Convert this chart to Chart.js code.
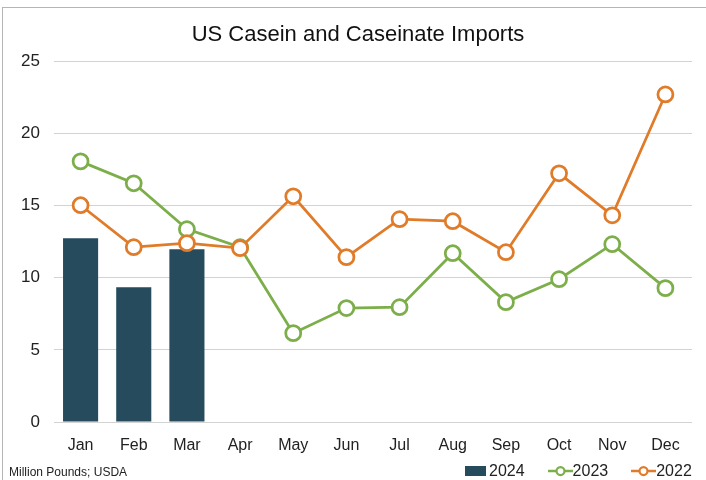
<!DOCTYPE html>
<html>
<head>
  <title>US Casein and Caseinate Imports</title>
  <script src="https://cdn.jsdelivr.net/npm/chart.js"></script>
  <style>
    body {
      margin: 0;
      background: #fff;
      font-family: 'Liberation Sans', Arial, sans-serif;
      color: #222;
    }
    .wrap {
      position: relative;
      width: 706px;
      height: 480px;
      overflow: hidden;
    }
    .frame-top {
      position: absolute;
      left: 2px; top: 7px;
      width: 704px; height: 0;
      border-top: 1px solid #b5b5b5;
    }
    .frame-left {
      position: absolute;
      left: 2px; top: 7px;
      width: 0; height: 473px;
      border-left: 1px solid #b5b5b5;
    }
    canvas { position: absolute; left: 0; top: 0; }
    .note {
      position: absolute;
      left: 9px; top: 464px;
      font-size: 12px;
      line-height: 16px;
    }
    .legend {
      position: absolute;
      top: 462px; left: 465px;
      display: flex;
      align-items: center;
      font-size: 16px;
      line-height: 18px;
    }
    .legend .item { display: flex; align-items: center; margin-right: 23px; }
    .legend .item:last-child { margin-right: 0; }
    .legend .box { width: 21px; height: 10px; margin-right: 3px; }
  </style>
</head>
<body>
  <div class="wrap">
    <canvas id="importsChart" width="706" height="480"></canvas>
    <div class="frame-top"></div>
    <div class="frame-left"></div>
    <div class="note">Million Pounds; USDA</div>
    <div class="legend" id="legend"></div>
  </div>

  <script>
    const months = ['Jan', 'Feb', 'Mar', 'Apr', 'May', 'Jun', 'Jul', 'Aug', 'Sep', 'Oct', 'Nov', 'Dec'];
    const imports2024 = [12.74, 9.35, 11.98, null, null, null, null, null, null, null, null, null];
    const imports2023 = [18.07, 16.55, 13.37, 12.12, 6.16, 7.9, 7.96, 11.7, 8.31, 9.9, 12.33, 9.28];
    const imports2022 = [15.03, 12.12, 12.4, 12.05, 15.65, 11.43, 14.06, 13.92, 11.77, 17.24, 14.33, 22.71];
    const yTicks = [0, 5, 10, 15, 20, 25];

    const navy = '#264b5c';
    const green = '#7cae4a';
    const orange = '#e07b29';
    const fontFamily = "'Liberation Sans', Arial, sans-serif";

    function lineSeries(label, values, color, order) {
      return {
        type: 'line',
        label: label,
        data: values,
        borderColor: color,
        borderWidth: 2.75,
        pointRadius: 7.5,
        pointBorderWidth: 2.75,
        pointBackgroundColor: '#fff',
        pointBorderColor: color,
        tension: 0,
        yAxisID: 'y',
        order: order
      };
    }

    const ctx = document.getElementById('importsChart').getContext('2d');
    new Chart(ctx, {
      type: 'bar',
      data: {
        labels: months,
        datasets: [
          {
            label: '2024',
            data: imports2024,
            backgroundColor: navy,
            categoryPercentage: 1,
            barPercentage: 0.66,
            yAxisID: 'y',
            order: 2
          },
          lineSeries('2023', imports2023, green, 1),
          lineSeries('2022', imports2022, orange, 0)
        ]
      },
      options: {
        responsive: false,
        animation: false,
        layout: { padding: { left: 10, right: 0, top: 0, bottom: 22 } },
        plugins: {
          legend: { display: false },
          tooltip: { enabled: false },
          title: {
            display: true,
            text: 'US Casein and Caseinate Imports',
            color: '#111',
            font: { family: fontFamily, size: 22, weight: 'normal' },
            padding: { top: 22, bottom: 13 }
          }
        },
        scales: {
          x: {
            grid: { display: false, drawTicks: false },
            border: { display: false },
            ticks: {
              color: '#222',
              font: { family: fontFamily, size: 16 },
              padding: 14
            },
            afterFit: scale => { scale.height = 36; }
          },
          y: {
            min: 0,
            max: 25,
            afterBuildTicks: scale => { scale.ticks = yTicks.map(v => ({ value: v })); },
            grid: { color: '#d3d3d3', lineWidth: 1, drawTicks: false },
            border: { display: false },
            ticks: {
              color: '#222',
              font: { family: fontFamily, size: 17 },
              padding: 14
            },
            afterFit: scale => { scale.width = 44; }
          },
          // empty right-hand spacer so the plot ends where the reference does
          spacer: {
            type: 'linear',
            position: 'right',
            grid: { display: false, drawTicks: false },
            border: { display: false },
            ticks: { display: false },
            afterFit: scale => { scale.width = 14; }
          }
        }
      }
    });

    // legend below the plot, right side
    const legendItems = [
      { label: '2024', color: navy, kind: 'bar' },
      { label: '2023', color: green, kind: 'line' },
      { label: '2022', color: orange, kind: 'line' }
    ];
    document.getElementById('legend').innerHTML = legendItems.map(item => {
      const mark = item.kind === 'bar'
        ? `<span class="box" style="background:${item.color}"></span>`
        : `<svg width="25" height="14"><line x1="0" y1="7" x2="25" y2="7" stroke="${item.color}" stroke-width="2.5"/>` +
          `<circle cx="12.5" cy="7" r="4" fill="#fff" stroke="${item.color}" stroke-width="2.25"/></svg>`;
      return `<span class="item">${mark}<span>${item.label}</span></span>`;
    }).join('');
  </script>
</body>
</html>
